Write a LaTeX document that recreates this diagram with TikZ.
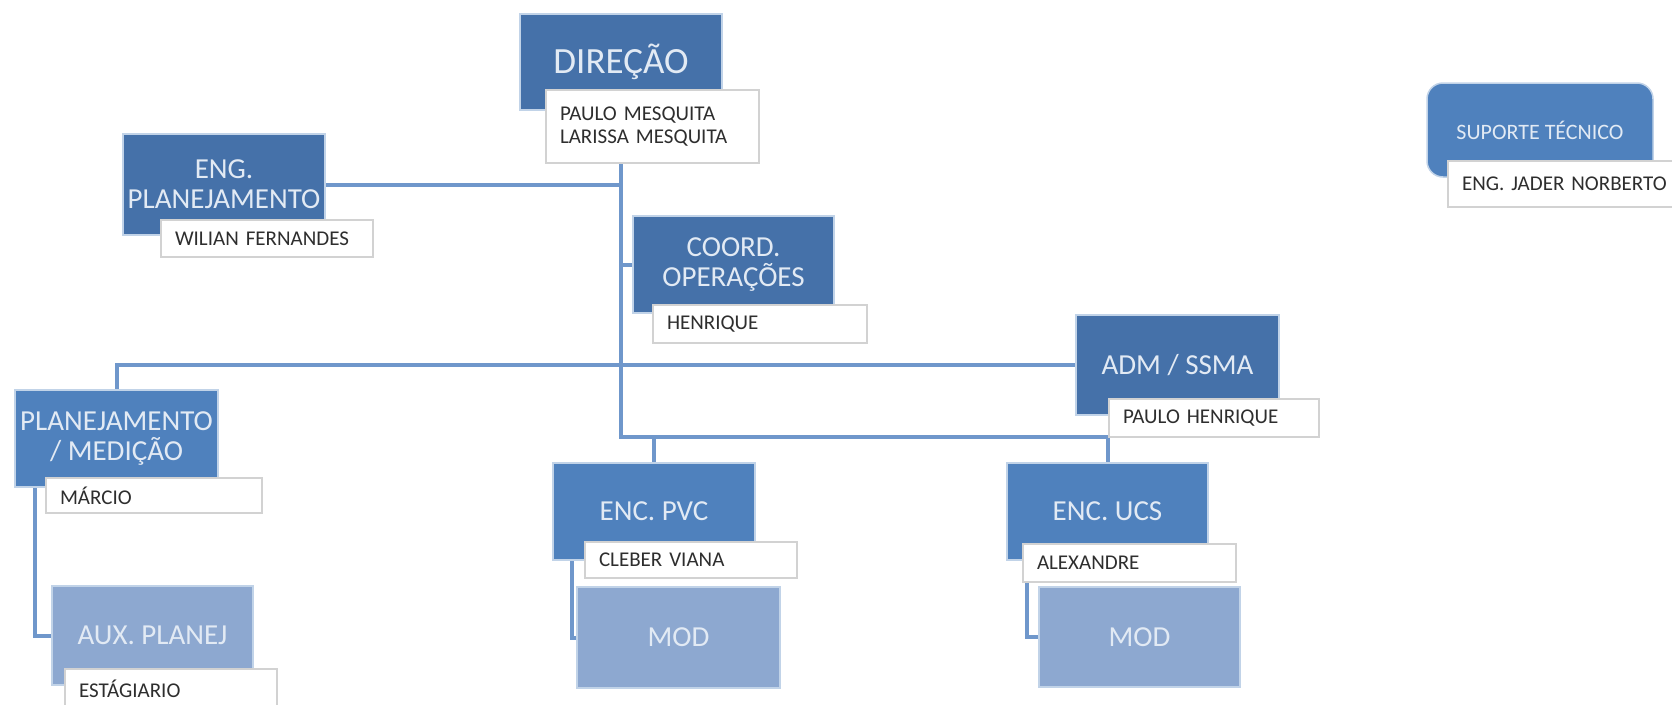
\documentclass[tikz,border=0pt]{standalone}
\usepackage{fontspec}
\setmainfont{Carlito}
\pgfdeclarelayer{bg}
\pgfsetlayers{bg,main}
\definecolor{darkfill}{HTML}{4571A9}
\definecolor{midfill}{HTML}{4F81BD}
\definecolor{lightfill}{HTML}{8DA8D0}
\definecolor{linec}{HTML}{6F97CB}
\definecolor{boxtext}{HTML}{E2EAF4}
\definecolor{namebd}{HTML}{D2D2D2}
\definecolor{nametext}{HTML}{2E2E2E}
\tikzset{
  role/.style={draw=midfill!35!white, line width=1.5pt, text=boxtext, inner sep=0pt, align=center, font=\fontsize{29}{30}\selectfont},
  darkbox/.style={role, fill=darkfill},
  midbox/.style={role, fill=midfill},
  lightbox/.style={role, fill=lightfill},
  namebox/.style={draw=namebd, line width=2.5pt, fill=white, inner xsep=14pt, inner ysep=0pt, text=nametext, align=left, font=\fontsize{21}{23}\selectfont},
  conn/.style={draw=linec, line width=4pt}
}
\begin{document}
\begin{tikzpicture}[x=1pt,y=-1pt]
\useasboundingbox (0,0) rectangle (1672,704);
% main boxes
\node[darkbox, minimum width=202pt, minimum height=96pt, font=\fontsize{37}{38}\selectfont] (dir) at (621,62) {DIREÇÃO};
\node[namebox, text width=185pt, minimum height=73pt] (dirn) at (652.5,126.5) {PAULO MESQUITA\\LARISSA MESQUITA};

\node[darkbox, minimum width=202pt, minimum height=101pt] (engp) at (224,184.5) {ENG.\\PLANEJAMENTO};
\node[namebox, text width=184pt, minimum height=37pt] (engpn) at (267,238.5) {WILIAN FERNANDES};

\node[darkbox, minimum width=201pt, minimum height=97pt] (coord) at (733.5,264.5) {COORD.\\OPERAÇÕES};
\node[namebox, text width=186pt, minimum height=38pt] (coordn) at (760,324) {HENRIQUE};

\node[midbox, rounded corners=16pt, minimum width=226pt, minimum height=94pt, font=\fontsize{22}{24}\selectfont] (sup) at (1540,130) {SUPORTE TÉCNICO};
\node[namebox, text width=209pt, minimum height=46pt] (supn) at (1566.5,184) {ENG. JADER NORBERTO};

\node[midbox, minimum width=203pt, minimum height=97pt] (plan) at (116.5,438.5) {PLANEJAMENTO\\/ MEDIÇÃO};
\node[namebox, text width=188pt, minimum height=35pt] (plann) at (154,495.5) {MÁRCIO};

\node[darkbox, minimum width=203pt, minimum height=100pt] (adm) at (1177.5,365) {ADM / SSMA};
\node[namebox, text width=182pt, minimum height=38pt] (admn) at (1214,418) {PAULO HENRIQUE};

\node[midbox, minimum width=202pt, minimum height=97pt] (pvc) at (654,511.5) {ENC. PVC};
\node[namebox, text width=184pt, minimum height=36pt] (pvcn) at (691,560) {CLEBER VIANA};
\node[lightbox, minimum width=203pt, minimum height=101pt] (mod1) at (678.5,637.5) {MOD};

\node[midbox, minimum width=201pt, minimum height=97pt] (ucs) at (1107.5,511.5) {ENC. UCS};
\node[namebox, text width=185pt, minimum height=38pt] (ucsn) at (1129.5,563) {ALEXANDRE};
\node[lightbox, minimum width=201pt, minimum height=100pt] (mod2) at (1139.5,637) {MOD};

\node[lightbox, minimum width=201pt, minimum height=99pt] (aux) at (152.5,635.5) {AUX. PLANEJ};
\node[namebox, text width=184pt, minimum height=40pt] (auxn) at (171,689) {ESTÁGIARIO};

% connectors
\coordinate (corner) at (621,437);
\coordinate (pvcj) at (654,437);
\begin{pgfonlayer}{bg}
\draw[conn] (dir.south) -- (corner) -| (ucs.north);
\draw[conn] (pvcj) -- (pvc.north);
\draw[conn] (engp.east) -- (engp.east -| dir.south);
\draw[conn] (coord.west -| dir.south) -- (coord.west);
\draw[conn] (plan.north) |- (adm.west);
\draw[conn] ([xshift=-81.5pt]plan.south) |- (aux.west);
\draw[conn] ([xshift=-82pt]pvc.south) |- (mod1.west);
\draw[conn] ([xshift=-80.5pt]ucs.south) |- (mod2.west);
\end{pgfonlayer}
\end{tikzpicture}
\end{document}
